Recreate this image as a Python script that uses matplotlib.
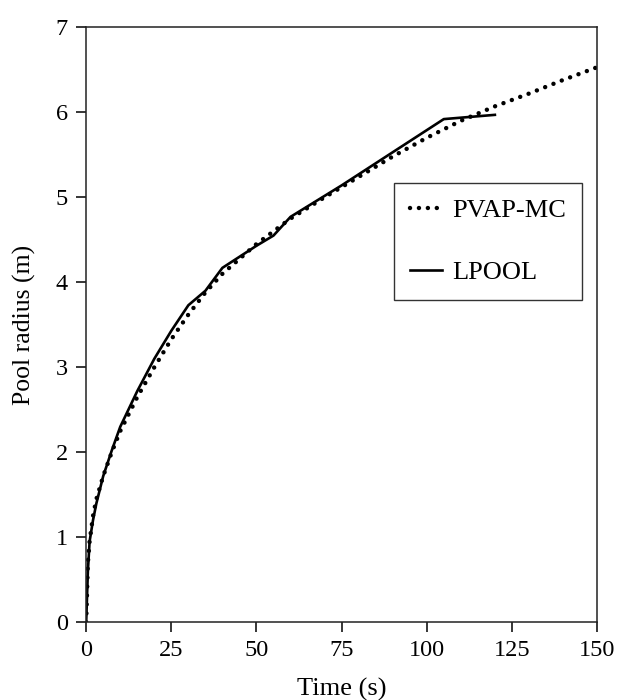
import matplotlib
matplotlib.use("Agg")
import matplotlib.pyplot as plt

plt.rcParams['font.family'] = ['Liberation Serif', 'DejaVu Serif']

# PVAP-MC model (dotted)
t_pvap = [0, 0.5, 1, 2, 3, 5, 7.5, 10, 15, 20, 25, 30, 35, 40, 50, 60,
          70, 80, 90, 100, 110, 120, 130, 140, 150]
r_pvap = [0, 0.7, 0.95, 1.25, 1.45, 1.72, 2.0, 2.25, 2.65, 3.0, 3.33, 3.62,
          3.88, 4.1, 4.45, 4.75, 5.0, 5.24, 5.48, 5.7, 5.9, 6.07, 6.22,
          6.38, 6.53]

# LPOOL model (solid)
t_lpool = [0, 0.5, 1, 2, 3, 5, 7.5, 10, 15, 20, 25, 30, 35, 40, 45, 50, 55,
           60, 75, 90, 105, 120]
r_lpool = [0, 0.6, 0.95, 1.2, 1.4, 1.72, 2.02, 2.3, 2.72, 3.1, 3.43, 3.73,
           3.9, 4.17, 4.3, 4.43, 4.55, 4.77, 5.14, 5.53, 5.92, 5.97]

x_ticks = [0, 25, 50, 75, 100, 125, 150]
y_ticks = [0, 1, 2, 3, 4, 5, 6, 7]

fig = plt.figure(figsize=(6.2, 7.0), dpi=100)
ax = fig.add_axes([0.139, 0.111, 0.824, 0.85])

ax.plot(t_pvap, r_pvap, color='black', linewidth=3.2,
        linestyle=(0, (0.01, 2.0)), dash_capstyle='round', label='PVAP-MC')
ax.plot(t_lpool, r_lpool, color='black', linewidth=1.9, label='LPOOL')

ax.set_xlim(0, 150)
ax.set_ylim(0, 7)
ax.set_xticks(x_ticks)
ax.set_yticks(y_ticks)
ax.tick_params(direction='out', length=7, width=1.1, labelsize=17.5,
               pad=6, colors='black')
for sp in ax.spines.values():
    sp.set_linewidth(1.1)
    sp.set_color('#222222')

ax.set_xlabel('Time (s)', fontsize=19, labelpad=12)
ax.set_ylabel('Pool radius (m)', fontsize=18.5, labelpad=14)

leg = ax.legend(loc='upper left', bbox_to_anchor=(0.603, 0.738),
                fontsize=19, frameon=True, fancybox=False, handlelength=1.2,
                handletextpad=0.4, labelspacing=1.45, borderpad=0.6,
                borderaxespad=0)
leg.get_frame().set_edgecolor('black')
leg.get_frame().set_linewidth(1.0)

fig.savefig('out.png', dpi=100)
